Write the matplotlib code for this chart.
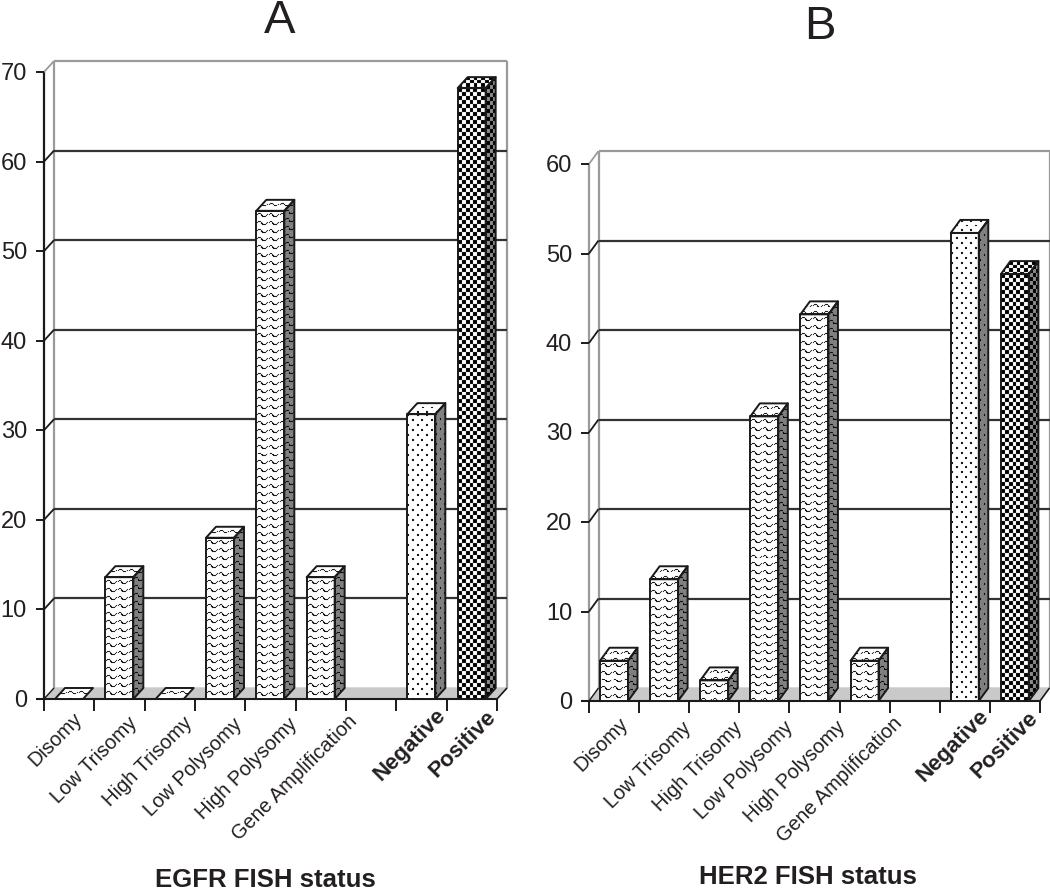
import numpy as np
import matplotlib
matplotlib.use("Agg")
import matplotlib.pyplot as plt
from matplotlib.patches import Polygon

plt.rcParams['font.family'] = ['Liberation Sans', 'DejaVu Sans']

categories = ['Disomy', 'Low Trisomy', 'High Trisomy', 'Low Polysomy', 'High Polysomy',
              'Gene Amplification', '', 'Negative', 'Positive']
egfr_values = [0, 13.6, 0, 18.0, 54.5, 13.6, None, 31.8, 68.2]
her2_values = [4.5, 13.6, 2.3, 31.8, 43.2, 4.5, None, 52.3, 47.7]
egfr_ticks = [0, 10, 20, 30, 40, 50, 60, 70]
her2_ticks = [0, 10, 20, 30, 40, 50, 60]
fills = ['wave'] * 6 + [None, 'dots', 'check']

W, H = 1050, 890
INK = '#231f20'
WALL = '#9a9a9a'
FLOOR = '#c9c9c9'
EDGE = '#1a1a1a'


def soften(a):
    out = a * 0.8
    for ax_, s in ((0, 1), (0, -1), (1, 1), (1, -1)):
        out = out + np.roll(a, s, axis=ax_) * 0.05
    return out


def tile(kind):
    if kind == 'wave':
        rows = ["............",
                "............",
                "............",
                "..###.......",
                ".#...#.....#",
                ".....##...#.",
                "......####..",
                "............"]
        t = np.array([[0.0 if c == '#' else 1.0 for c in r] for r in rows])
    elif kind == 'dots':
        t = np.ones((10, 10))
        t[0:2, 0:2] = 0
        t[5:7, 5:7] = 0
    else:
        t = np.ones((8, 8))
        t[0:4, 0:4] = 0
        t[4:8, 4:8] = 0
    return soften(t)


def fill_face(ax, pts, kind, side=False):
    pts = np.asarray(pts, float)
    px = ax.transData.transform(pts)
    w = int(np.ceil(np.ptp(px[:, 0]))) + 1
    h = int(np.ceil(np.ptp(px[:, 1]))) + 1
    t = tile(kind)
    if side:
        t = t * 0.5 + 0.0 if kind != 'check' else t * 0.55
    arr = np.tile(t, (h // t.shape[0] + 1, w // t.shape[1] + 1))[:h, :w]
    poly = Polygon(pts, closed=True, facecolor='none', edgecolor=EDGE, lw=1.4,
                   joinstyle='round', clip_on=False, zorder=4)
    ax.add_patch(poly)
    im = ax.imshow(arr, cmap='gray', vmin=0, vmax=1, interpolation='nearest', aspect='auto',
                   extent=(pts[:, 0].min(), pts[:, 0].max(), pts[:, 1].min(), pts[:, 1].max()),
                   zorder=3)
    im.set_clip_path(poly)
    im.set_clip_box(None)


def panel(box, values, ticks, ymax, depth, left_color, title, title_xy, xlabel, xlabel_xy, offsets):
    x0, x1, ytop, y0 = box
    ax = fig.add_axes([x0 / W, 1 - y0 / H, (x1 - x0) / W, (y0 - ytop) / H])
    ax.set_xlim(0, len(categories))
    ax.set_ylim(0, ymax)
    ax.set_autoscale_on(False)
    ax.axis('off')
    dx = depth[0] * len(categories) / (x1 - x0)
    dy = depth[1] * ymax / (y0 - ytop)
    n = len(categories)
    kw = dict(clip_on=False, solid_capstyle='butt')

    ax.add_patch(Polygon([(0, 0), (n, 0), (n + dx, dy), (dx, dy)], closed=True, facecolor=FLOOR,
                         edgecolor=FLOOR, clip_on=False, zorder=1))
    ax.plot([dx, dx], [dy, ymax + dy], color=WALL, lw=1.6, zorder=1, **kw)
    ax.plot([n + dx, n + dx], [dy, ymax + dy], color=WALL, lw=1.6, zorder=1, **kw)
    ax.plot([0, 0], [0, ymax], color=left_color, lw=1.6, zorder=2, **kw)
    ax.plot([n, n + dx], [0, dy], color=EDGE, lw=1.2, zorder=2, **kw)
    ax.plot([0, dx], [0, dy], color=EDGE, lw=1.0, zorder=2, **kw)
    tick_x = 8.5 * n / (x1 - x0)
    tick_y = 12 * ymax / (y0 - ytop)
    for v in ticks:
        top = v == ticks[-1]
        if v > 0:
            c = WALL if top else '#333333'
            ax.plot([dx, n + dx], [v + dy, v + dy], color=c, lw=1.6, zorder=1, **kw)
            ax.plot([0, dx], [v, v + dy], color=WALL if top else EDGE, lw=1.3, zorder=2, **kw)
        ax.plot([-tick_x, 0], [v, v], color=EDGE, lw=1.4, zorder=2, **kw)
        ax.annotate(str(v), (0, v), xytext=(-17, -2), textcoords='offset pixels', ha='right',
                    va='center', fontsize=17, color=INK, annotation_clip=False)
    ax.plot([-tick_x, 0], [0, 0], color=EDGE, lw=1.5, zorder=2, **kw)
    ax.plot([0, n], [0, 0], color=EDGE, lw=1.5, zorder=2, **kw)
    for i in range(n + 1):
        ax.plot([i, i], [0, -tick_y], color=EDGE, lw=1.4, zorder=2, **kw)

    bw = 28 * n / (x1 - x0)
    gap = 11 * n / (x1 - x0)
    for i, (v, kind) in enumerate(zip(values, fills)):
        if v is None:
            continue
        l, r = i + gap, i + gap + bw
        if v > 0:
            fill_face(ax, [(l, 0), (r, 0), (r, v), (l, v)], kind)
            fill_face(ax, [(r, 0), (r + dx, dy), (r + dx, v + dy), (r, v)], kind, side=True)
        fill_face(ax, [(l, v), (r, v), (r + dx, v + dy), (l + dx, v + dy)], kind)

    for i, (lab, off) in enumerate(zip(categories, offsets)):
        if not lab:
            continue
        bold = lab in ('Negative', 'Positive')
        ax.annotate(lab, (i + 0.5, 0), xytext=off, textcoords='offset pixels', rotation=45,
                    rotation_mode='anchor', ha='right', va='center',
                    fontsize=16 if bold else 14.5, fontweight='bold' if bold else 'normal',
                    color=INK, annotation_clip=False)
    fig.text(title_xy[0] / W, 1 - title_xy[1] / H, title, fontsize=34, color=INK, ha='center', va='center')
    fig.text(xlabel_xy[0] / W, 1 - xlabel_xy[1] / H, xlabel, fontsize=18.5, fontweight='bold',
             color=INK, ha='center', va='center')


fig = plt.figure(figsize=(W / 100, H / 100), dpi=100, facecolor='white')
panel((44, 497, 72, 699), egfr_values, egfr_ticks, 70, (10, 11), EDGE, 'A', (280, 21),
      'EGFR FISH status', (265, 880),
      [(10, -17), (15, -21), (20, -21), (19, -22), (24, -22), (33, -19), (0, 0), (21, -13), (21, -15)])
panel((589, 1040, 164, 701), her2_values, her2_ticks, 60, (9.5, 13), WALL, 'B', (820, 27),
      'HER2 FISH status', (808, 877),
      [(11, -20), (24, -24), (25, -24), (26, -23), (28, -23), (35, -19), (0, 0), (21, -12), (20, -14)])

fig.savefig('out.png', dpi=100, facecolor='white')
